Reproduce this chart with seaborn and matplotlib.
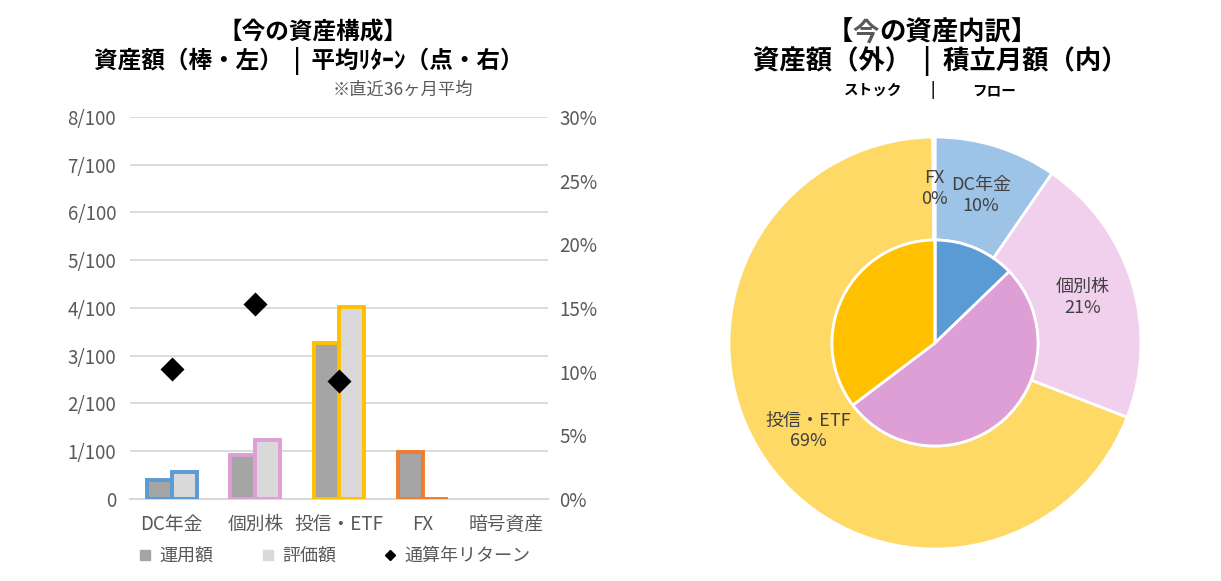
import numpy as np
import pandas as pd
import matplotlib
matplotlib.use("Agg")
import matplotlib.pyplot as plt
from matplotlib.ticker import FuncFormatter, FixedLocator
from matplotlib.lines import Line2D
import seaborn as sns

# ---------------- data ----------------
categories = ["DC年金", "個別株", "投信・ETF", "FX", "暗号資産"]
invested = [0.0040, 0.0092, 0.0326, 0.0099, 0.0]      # 運用額
valuation = [0.0056, 0.0124, 0.0402, 0.0001, 0.0]     # 評価額
returns = [0.102, 0.153, 0.093, np.nan, np.nan]       # 通算年リターン

pie_labels = ["DC年金", "個別株", "投信・ETF", "FX"]
pie_outer = [0.0056, 0.0124, 0.0402, 0.0001]          # 資産額 (評価額)
pie_inner = [12.8, 51.9, 35.3, 0.0]                   # 積立月額

bar_series = ["運用額", "評価額"]
legend_labels = ["運用額", "評価額", "通算年リターン"]
left_ticks = [0, 0.01, 0.02, 0.03, 0.04, 0.05, 0.06, 0.07, 0.08]
right_ticks = [0, 0.05, 0.10, 0.15, 0.20, 0.25, 0.30]

# ---------------- style ----------------
edge_colors = ["#5B9BD5", "#DE9ED6", "#FFC000", "#ED7D31", "none"]
fill_colors = {"運用額": "#A5A5A5", "評価額": "#D9D9D9"}
outer_colors = ["#9DC3E6", "#F0D0EC", "#FFD966", "#F4B183"]
inner_colors = ["#5B9BD5", "#DE9ED6", "#FFC000", "#ED7D31"]
grey_txt = "#595959"
grid_c = "#D9D9D9"

sns.set_theme(style="white")
plt.rcParams["font.family"] = ["Noto Sans CJK JP", "DejaVu Sans"]

W, H = 1221, 581
fig = plt.figure(figsize=(W / 100, H / 100), dpi=100)

def fx(px):
    return px / W

def fy(py):
    return 1 - py / H

# ---------------- bar chart ----------------
ax = fig.add_axes([fx(130), fy(499), fx(548) - fx(130), fy(117) - fy(499)])
df = pd.DataFrame({
    "cat": categories * 2,
    "series": [bar_series[0]] * len(categories) + [bar_series[1]] * len(categories),
    "value": invested + valuation,
})
sns.barplot(data=df, x="cat", y="value", hue="series", hue_order=bar_series,
            palette=fill_colors, width=0.6, gap=0, ax=ax, legend=False,
            errorbar=None, saturation=1, zorder=3)
for cont in ax.containers:
    for bar, ec in zip(cont, edge_colors):
        bar.set_edgecolor(ec)
        bar.set_linewidth(2.8)

ax.set_ylim(0, 0.08)
ax.set_xlim(-0.5, len(categories) - 0.5)
ax.yaxis.set_major_locator(FixedLocator(left_ticks))
ax.yaxis.set_major_formatter(FuncFormatter(
    lambda v, p: "0" if abs(v) < 1e-9 else f"{int(round(v * 100))}/100"))
ax.grid(axis="y", color=grid_c, linewidth=1.3, zorder=0)
ax.set_axisbelow(True)
for s in ["top", "right", "left"]:
    ax.spines[s].set_visible(False)
ax.spines["bottom"].set_color(grid_c)
ax.spines["bottom"].set_linewidth(1.5)
ax.set_xlabel("")
ax.set_ylabel("")
ax.tick_params(axis="y", length=0, pad=10, labelsize=13.5, labelcolor=grey_txt)
ax.tick_params(axis="x", which="major", length=0, pad=11, labelsize=13.5, labelcolor=grey_txt)
ax.set_xticks(np.arange(-0.5, len(categories)), minor=True)
ax.tick_params(axis="x", which="minor", length=5, width=1.3, color=grid_c, direction="out")

ax2 = ax.twinx()
sns.scatterplot(x=np.arange(len(categories)), y=returns, marker="D", s=150,
                color="black", linewidth=0, ax=ax2, legend=False, zorder=5)
ax2.set_ylim(0, 0.30)
ax2.set_xlim(-0.5, len(categories) - 0.5)
ax2.yaxis.set_major_locator(FixedLocator(right_ticks))
ax2.yaxis.set_major_formatter(FuncFormatter(lambda v, p: f"{v * 100:.0f}%"))
ax2.tick_params(axis="y", length=0, pad=8, labelsize=13.5, labelcolor=grey_txt)
for s in ["top", "right", "left", "bottom"]:
    ax2.spines[s].set_visible(False)
ax2.set_ylabel("")
ax2.grid(False)

handles = [
    Line2D([], [], marker="s", linestyle="none", markersize=7.5, color=fill_colors["運用額"]),
    Line2D([], [], marker="s", linestyle="none", markersize=7.5, color=fill_colors["評価額"]),
    Line2D([], [], marker="D", linestyle="none", markersize=5.5, color="black"),
]
fig.legend(handles, legend_labels, loc="center left",
           bbox_to_anchor=(fx(138), fy(556)), ncol=3, frameon=False,
           fontsize=13, labelcolor=grey_txt, handlelength=0.8,
           handletextpad=0.4, columnspacing=2.6, borderpad=0, borderaxespad=0)

# titles (left)
fig.text(fx(313), fy(33), "【今の資産構成】", ha="center", va="center",
         fontsize=17, fontweight="bold", color="black")
fig.text(fx(309), fy(61), "資産額（棒・左）  |  平均ﾘﾀｰﾝ（点・右）", ha="center",
         va="center", fontsize=17, fontweight="bold", color="black")
fig.text(fx(403), fy(90), "※直近36ヶ月平均", ha="center", va="center",
         fontsize=12.5, color=grey_txt)

# ---------------- pie chart ----------------
R = 206
pax = fig.add_axes([fx(935 - R), fy(343 + R), fx(2 * R), (2 * R) / H])
tot = sum(pie_outer)
outer_text = [f"{l}\n{v / tot * 100:.0f}%" for l, v in zip(pie_labels, pie_outer)]
wedges, texts = pax.pie(pie_outer, radius=1.0, startangle=90, counterclock=False,
                        colors=outer_colors, labels=outer_text, labeldistance=0.75,
                        wedgeprops=dict(width=0.5, edgecolor="white", linewidth=2),
                        textprops=dict(ha="center", va="center", fontsize=13,
                                       color="#404040", linespacing=1.2))
pax.pie(pie_inner, radius=0.5, startangle=90, counterclock=False,
        colors=inner_colors,
        wedgeprops=dict(edgecolor="white", linewidth=2))
pax.set_xlim(-1, 1)
pax.set_ylim(-1, 1)
pax.set_aspect("equal")
pax.axis("off")

# right title line 1 with grey 今
title_parts = [("【", "black"), ("今", grey_txt), ("の資産内訳】", "black")]
fig.canvas.draw()
renderer = fig.canvas.get_renderer()
full = fig.text(0, 0, "".join(p for p, _ in title_parts), fontsize=19, fontweight="bold")
total_w = full.get_window_extent(renderer).width
full.remove()
x0 = 932 - total_w / 2
for part, col in title_parts:
    t = fig.text(fx(x0), fy(33), part, ha="left", va="center", fontsize=19,
                 fontweight="bold", color=col)
    x0 += t.get_window_extent(renderer).width

fig.text(fx(940), fy(61), "資産額（外）  |  積立月額（内）", ha="center", va="center",
         fontsize=19, fontweight="bold", color="black")
fig.text(fx(873), fy(90), "ストック", ha="center", va="center", fontsize=10.5,
         fontweight="bold", color="black")
fig.text(fx(933), fy(90), "|", ha="center", va="center", fontsize=10.5,
         fontweight="bold", color="black")
fig.text(fx(994), fy(90), "フロー", ha="center", va="center", fontsize=10.5,
         fontweight="bold", color="black")

fig.savefig("out.png", dpi=100, facecolor="white")
